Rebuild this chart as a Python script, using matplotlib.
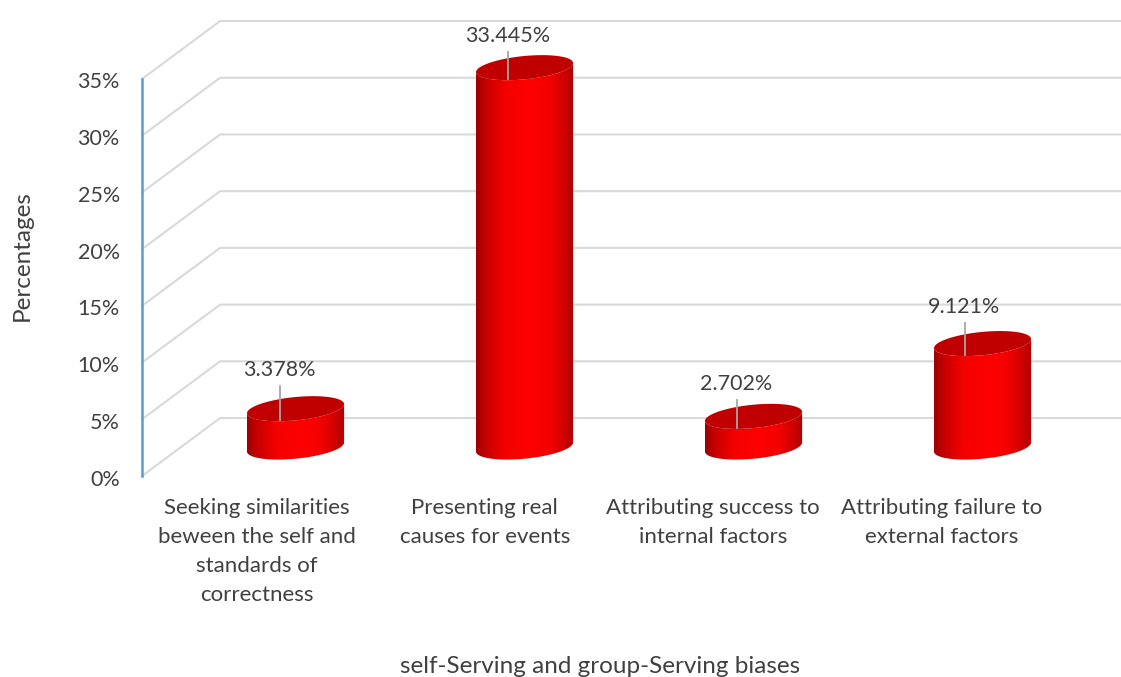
import numpy as np
import matplotlib.pyplot as plt
from matplotlib.colors import LinearSegmentedColormap
from matplotlib.patches import Polygon
from matplotlib.ticker import PercentFormatter
from matplotlib.transforms import ScaledTranslation

categories = [
    "Seeking similarities\nbeween the self and\nstandards of\ncorrectness",
    "Presenting real\ncauses for events",
    "Attributing success to\ninternal factors",
    "Attributing failure to\nexternal factors",
]
values = [3.378, 33.445, 2.702, 9.121]
value_labels = ["3.378%", "33.445%", "2.702%", "9.121%"]
y_ticks = [0, 5, 10, 15, 20, 25, 30, 35]

# how far each leader line rises above its lid
leader_rise = [1.98, 1.41, 1.45, 1.82]

plt.rcParams['font.family'] = ['Lato', 'DejaVu Sans']
TEXT = '#404040'
GRID = '#d9d9d9'

# depth of the fake 3d floor, in axis units
DEPTH_X = 0.341
DEPTH_Y = 5.11
# cylinder shape
RADIUS = 0.212
ELL_B = 1.03
ELL_TILT = 0.4
# labels and leaders sit on a slightly tighter step than the cylinders
LABEL_STEP = 0.997

body_cmap = LinearSegmentedColormap.from_list('cyl', [
    (0.0, '#a00000'), (0.12, '#cc0000'), (0.3, '#f40000'), (0.55, '#ff0000'),
    (0.75, '#f40000'), (0.9, '#d00000'), (1.0, '#ac0000')])

fig = plt.figure(figsize=(11.21, 6.77), dpi=100)
ax = fig.add_axes([142 / 1121, 1 - 476 / 677, 916 / 1121, 397 / 677])
ax.set_xlim(-0.5, 3.5)
ax.set_ylim(0, 35)


def ellipse(cx, cy, t):
    return cx + RADIUS * np.cos(t), cy + ELL_B * np.sin(t) + ELL_TILT * np.cos(t)


# walls: diagonal from the axis to the back, then straight across
for y in y_ticks:
    ax.plot([-0.5, -0.5 + DEPTH_X, 3.9], [y, y + DEPTH_Y, y + DEPTH_Y], color=GRID, lw=1.5,
            clip_on=False, zorder=1, solid_joinstyle='miter')

gradient = np.linspace(0, 1, 256).reshape(1, -1)
for i, v in enumerate(values):
    cx = i + DEPTH_X / 2
    base = DEPTH_Y / 2
    top = base + v

    # side of the cylinder, shaded left to right
    t_low = np.linspace(np.pi, 2 * np.pi, 60)
    t_up = t_low[::-1]
    xb, yb = ellipse(cx, base, t_low)
    xt, yt = ellipse(cx, top, t_up)
    outline = np.column_stack([np.r_[xb, xt], np.r_[yb, yt]])
    side = Polygon(outline, closed=True, fc='none', ec='none', transform=ax.transData)
    ax.add_patch(side)
    im = ax.imshow(gradient, cmap=body_cmap, aspect='auto', zorder=3,
                   extent=[cx - RADIUS, cx + RADIUS, yb.min(), yt.max() + 1])
    im.set_clip_box(fig.bbox)
    im.set_clip_path(side)

    # lid
    t = np.linspace(0, 2 * np.pi, 120)
    xl, yl = ellipse(cx, top, t)
    ax.fill(xl, yl, color='#c00000', lw=0, zorder=4, clip_on=False)

    # value label with its leader line
    lx = i * LABEL_STEP + DEPTH_X / 2 - 0.068
    rise = leader_rise[i]
    ax.plot([lx, lx], [top - 1.0, top + rise], color='#a6a6a6', lw=1.3, zorder=5, clip_on=False)
    ax.text(lx - 0.004, top + rise + 1.41, value_labels[i], ha='center', va='center', fontsize=15.5,
            color=TEXT, zorder=6)

ax.set_xlim(-0.5, 3.5)
ax.set_ylim(0, 35)

ax.set_yticks(y_ticks)
ax.yaxis.set_major_formatter(PercentFormatter(decimals=0))
ax.set_xticks([i * LABEL_STEP for i in range(len(categories))])
ax.set_xticklabels(categories, linespacing=1.56)
ax.tick_params(axis='y', length=0, pad=16, labelsize=15.5, labelcolor=TEXT)
ax.tick_params(axis='x', length=0, pad=16, labelsize=16, labelcolor=TEXT)

# nudge the percent labels down a touch
nudge = ScaledTranslation(0, -1.5 / 100, fig.dpi_scale_trans)
for lbl in ax.get_yticklabels():
    lbl.set_transform(lbl.get_transform() + nudge)

for name in ['top', 'right', 'bottom']:
    ax.spines[name].set_visible(False)
ax.spines['left'].set_color('#5b9bd5')
ax.spines['left'].set_linewidth(1.8)

ax.set_ylabel('Percentages', fontsize=17.5, color=TEXT)
ax.yaxis.set_label_coords((33 - 142) / 916, (476 - 256) / 397)
ax.set_xlabel('self-Serving and group-Serving biases', fontsize=17.5, color=TEXT)
ax.xaxis.set_label_coords((600 - 142) / 916, (476 - 656) / 397)

fig.savefig('out.png', dpi=100)
